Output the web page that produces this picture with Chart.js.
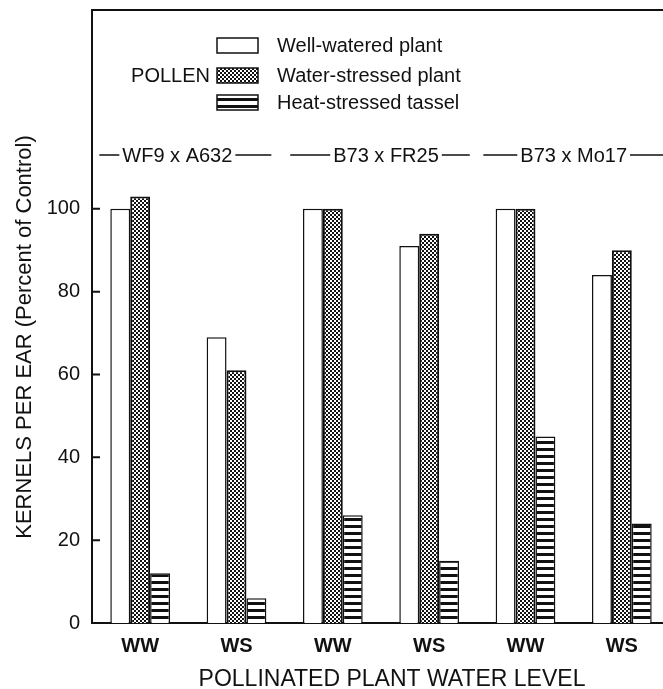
<!DOCTYPE html>
<html>
<head>
<meta charset="utf-8">
<script src="https://cdn.jsdelivr.net/npm/chart.js@4/dist/chart.umd.min.js"></script>
<style>
html, body { margin: 0; padding: 0; background: #fff; overflow: hidden; }
#wrap { width: 663px; height: 689px; overflow: hidden; }
</style>
</head>
<body>
<div id="wrap"><canvas id="kernelChart" width="680" height="689"></canvas></div>
<script>
// data
const waterLevels = ["WW", "WS", "WW", "WS", "WW", "WS"];
const hybrids = ["WF9 x A632", "B73 x FR25", "B73 x Mo17"];
const seriesNames = ["Well-watered plant", "Water-stressed plant", "Heat-stressed tassel"];
const wellWatered = [100, 69, 100, 91, 100, 84];
const waterStressed = [103, 61, 100, 94, 100, 90];
const heatStressed = [12, 6, 26, 15, 45, 24];
const yTicks = [0, 20, 40, 60, 80, 100];

const font = "'Liberation Sans', Arial, sans-serif";
const ink = "#111";

const canvas = document.getElementById("kernelChart");
const ctx = canvas.getContext("2d");

function makePattern(w, h, draw) {
    const tile = document.createElement("canvas");
    tile.width = w;
    tile.height = h;
    draw(tile.getContext("2d"));
    return ctx.createPattern(tile, "repeat");
}

// stippled fill
const stipple = makePattern(4, 4, function (g) {
    g.fillStyle = "#fff";
    g.fillRect(0, 0, 4, 4);
    g.fillStyle = ink;
    g.fillRect(0, 0, 2, 2);
    g.fillRect(2, 2, 2, 2);
});

// horizontal stripes
const stripes = makePattern(8, 7, function (g) {
    g.fillStyle = "#fff";
    g.fillRect(0, 0, 8, 7);
    g.fillStyle = ink;
    g.fillRect(0, 0, 8, 3);
});

const decorations = {
    id: "decorations",
    afterDraw(chart) {
        const { ctx, chartArea, scales } = chart;
        const x = scales.x, y = scales.y;
        ctx.save();
        ctx.strokeStyle = ink;
        ctx.fillStyle = ink;

        // top frame line
        ctx.lineWidth = 2;
        ctx.beginPath();
        ctx.moveTo(chartArea.left - 1, chartArea.top);
        ctx.lineTo(chartArea.right + 20, chartArea.top);
        ctx.stroke();

        // inward tick marks
        ctx.beginPath();
        yTicks.forEach(function (v) {
            const py = y.getPixelForValue(v);
            ctx.moveTo(chartArea.left, py);
            ctx.lineTo(chartArea.left + 8, py);
        });
        ctx.stroke();

        // legend
        const fills = chart.data.datasets.map(d => d.backgroundColor);
        const rowY = [45, 75, 102];
        ctx.font = "20px " + font;
        ctx.textBaseline = "middle";
        seriesNames.forEach(function (name, i) {
            ctx.fillStyle = fills[i];
            ctx.fillRect(217, rowY[i] - 7, 41, 15);
            ctx.lineWidth = 1.5;
            ctx.strokeRect(217, rowY[i] - 7, 41, 15);
            ctx.fillStyle = ink;
            ctx.textAlign = "left";
            ctx.fillText(name, 277, rowY[i] + 1);
        });
        ctx.textAlign = "right";
        ctx.fillText("POLLEN", 210, rowY[1] + 1);

        // hybrid group labels with dashes
        ctx.font = "20px " + font;
        ctx.textAlign = "center";
        ctx.lineWidth = 1.5;
        const shift = [-11, 5, 0];
        const dashL = [20, 40, 34];
        const dashR = [36, 28, 34];
        hybrids.forEach(function (h, i) {
            const cx = (x.getPixelForValue(2 * i) + x.getPixelForValue(2 * i + 1)) / 2 + shift[i];
            const half = ctx.measureText(h).width / 2;
            ctx.fillText(h, cx, 156);
            ctx.beginPath();
            ctx.moveTo(cx - half - 3 - dashL[i], 155);
            ctx.lineTo(cx - half - 3, 155);
            ctx.moveTo(cx + half + 3, 155);
            ctx.lineTo(cx + half + 3 + dashR[i], 155);
            ctx.stroke();
        });

        // axis titles
        ctx.font = "23px " + font;
        ctx.fillText("POLLINATED PLANT WATER LEVEL", 392, 680);
        ctx.translate(25, 337);
        ctx.rotate(-Math.PI / 2);
        ctx.font = "22px " + font;
        ctx.fillText("KERNELS PER EAR (Percent of Control)", 0, 0);
        ctx.restore();
    }
};

new Chart(ctx, {
    type: "bar",
    data: {
        labels: waterLevels,
        datasets: [
            { label: seriesNames[0], data: wellWatered, backgroundColor: "#fff", borderColor: ink, borderWidth: 1.5 },
            { label: seriesNames[1], data: waterStressed, backgroundColor: stipple, borderColor: ink, borderWidth: 2 },
            { label: seriesNames[2], data: heatStressed, backgroundColor: stripes, borderColor: ink, borderWidth: 1.5 },
        ],
    },
    options: {
        responsive: false,
        animation: false,
        layout: { padding: { top: 10, right: 10, left: 0, bottom: 0 } },
        datasets: { bar: { categoryPercentage: 0.62, barPercentage: 1.0, borderSkipped: "bottom" } },
        plugins: { legend: { display: false }, tooltip: { enabled: false } },
        scales: {
            x: {
                grid: { display: false, drawTicks: false },
                border: { color: ink, width: 2 },
                ticks: { color: ink, font: { family: font, size: 20, weight: "bold" }, padding: 11 },
                afterFit(s) { s.height = 66; s.paddingLeft = 0; s.paddingRight = 0; },
            },
            y: {
                min: 0,
                max: 148,
                afterBuildTicks(s) { s.ticks = yTicks.map(v => ({ value: v })); },
                grid: { display: false, drawTicks: false },
                border: { color: ink, width: 2 },
                ticks: { color: ink, font: { family: font, size: 20 }, padding: 12 },
                afterFit(s) { s.width = 92; s.paddingTop = 0; s.paddingBottom = 0; },
            },
        },
    },
    plugins: [decorations],
});
</script>
</body>
</html>
